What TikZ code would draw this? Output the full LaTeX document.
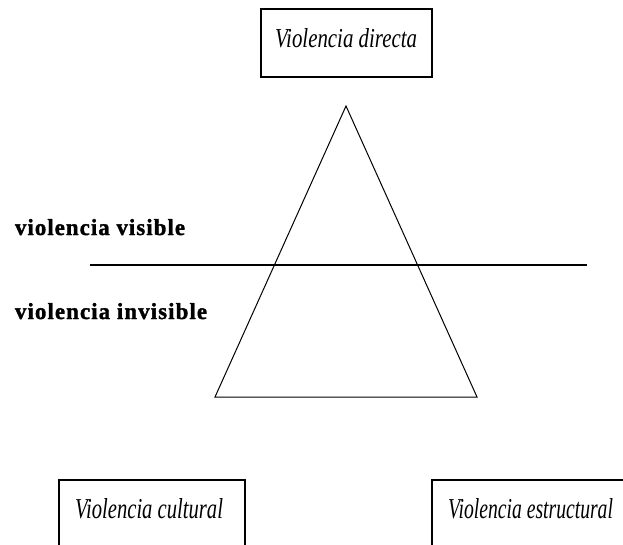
\documentclass[tikz,border=0pt]{standalone}
\usepackage{fontspec}
\setmainfont{Liberation Serif}
\newfontfamily\spacedbold[LetterSpace=5,FakeBold=1.5]{Liberation Serif Bold}
\begin{document}
\begin{tikzpicture}[x=1pt,y=-1pt,
  boxline/.style={line width=1.3pt,black},
  triline/.style={line width=1pt,black},
  sepline/.style={line width=2.2pt,black},
  boxlabel/.style={anchor=base west,inner sep=0pt,outer sep=0pt},
  sidelabel/.style={anchor=base west,inner sep=0pt,outer sep=0pt}]
\useasboundingbox (0,0) rectangle (623,544);
\clip (0,0) rectangle (623,544);
% top box
\coordinate (dtl) at (261,9);
\coordinate (dbr) at (432,77);
\draw[boxline] (dtl) rectangle (dbr);
\node[boxlabel] (directa) at (275,47) {\resizebox{142pt}{19pt}{\itshape Violencia directa}};
% triangle
\coordinate (apex) at (346,106);
\coordinate (bl) at (215,397);
\coordinate (br) at (477,397);
\draw[triline,line join=miter] (apex) -- (bl) -- (br) -- cycle;
% separator
\coordinate (sepL) at (90,265);
\coordinate (sepR) at (587,265);
\draw[sepline] (sepL) -- (sepR);
\node[sidelabel] (visible) at (15,235) {\resizebox{170pt}{16pt}{\spacedbold violencia visible}};
\node[sidelabel] (invisible) at (15,319) {\resizebox{192pt}{16pt}{\spacedbold violencia invisible}};
% bottom boxes (cut off by the picture edge)
\coordinate (c1) at (59,560);
\coordinate (c2) at (59,480);
\coordinate (c3) at (245,480);
\coordinate (c4) at (245,560);
\draw[boxline] (c1) -- (c2) -- (c3) -- (c4);
\node[boxlabel] (cultural) at (75,518) {\resizebox{148pt}{20pt}{\itshape Violencia cultural}};
\coordinate (e1) at (432,560);
\coordinate (e2) at (432,480);
\coordinate (e3) at (640,480);
\draw[boxline] (e1) -- (e2) -- (e3);
\node[boxlabel] (estructural) at (448,518) {\resizebox{165pt}{20pt}{\itshape Violencia estructural}};
\end{tikzpicture}
\end{document}
